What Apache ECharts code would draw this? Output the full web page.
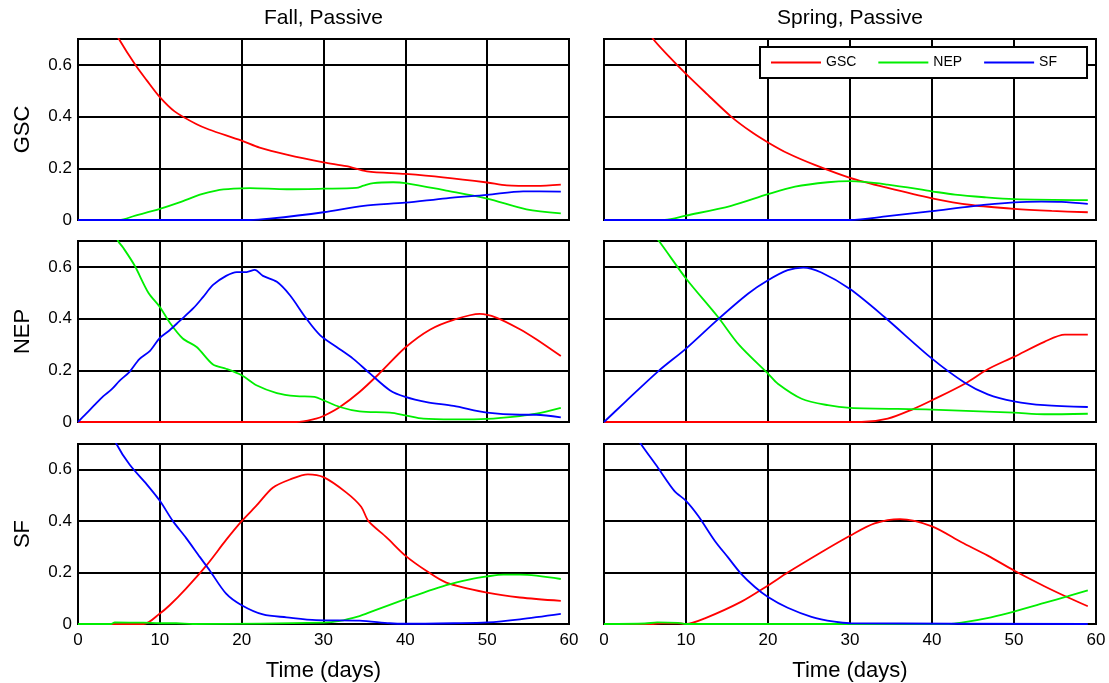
<!DOCTYPE html>
<html><head><meta charset="utf-8">
<script src="https://cdn.jsdelivr.net/npm/echarts@6/dist/echarts.min.js"></script>
<style>html,body{margin:0;padding:0;background:#fff}#c{width:1109px;height:683px}</style>
</head><body><div id="c"></div>
<script>
const seriesNames = ['GSC', 'NEP', 'SF'];
const panelTitles = ['Fall, Passive', 'Spring, Passive'];
const rowLabels = ['GSC', 'NEP', 'SF'];
const xTicks = [0, 10, 20, 30, 40, 50, 60];
const yTicks = [0, 0.2, 0.4, 0.6];

// ---- Fall, GSC panel ----
const fallGSC_GSC = [[0,0.98],[2,0.86],[4,0.76],[5,0.70],[7,0.60],[8.4,0.54],[10,0.475],[11.8,0.42],[14.5,0.37],[16,0.35],[20,0.307],[22.2,0.28],[25.5,0.253],[30,0.223],[32.8,0.208],[35.3,0.188],[40,0.178],[44.6,0.165],[50,0.145],[52.4,0.134],[56,0.132],[59,0.137]];
const fallGSC_NEP = [[0,0],[5,0],[7,0.017],[10,0.043],[12.4,0.068],[14.9,0.098],[16.9,0.114],[19,0.121],[21,0.123],[25.5,0.119],[30,0.121],[34,0.124],[34.9,0.133],[36.1,0.143],[38.5,0.146],[40,0.143],[45,0.114],[50,0.083],[54.8,0.041],[59,0.026]];
const fallGSC_SF = [[0,0],[21,0],[23.4,0.005],[30,0.03],[34.9,0.055],[40,0.067],[45,0.084],[50,0.097],[54.4,0.111],[59,0.11]];

// ---- Spring, GSC panel ----
const springGSC_GSC = [[0,0.98],[3,0.84],[6,0.70],[8,0.63],[10,0.565],[12.3,0.495],[15.5,0.40],[18,0.34],[20,0.30],[22.4,0.258],[25.7,0.213],[30,0.163],[34.6,0.124],[40,0.084],[44.8,0.058],[50,0.043],[54.6,0.035],[59,0.03]];
const springGSC_NEP = [[0,0],[7.4,0],[10,0.017],[15.5,0.055],[20,0.10],[23.3,0.129],[27.3,0.146],[30,0.15],[34.6,0.137],[40,0.111],[42.8,0.098],[46.4,0.088],[50,0.081],[59,0.077]];
const springGSC_SF = [[0,0],[30,0],[34.6,0.015],[40,0.034],[44.8,0.053],[50,0.068],[53.3,0.071],[55.8,0.07],[59,0.062]];

// ---- Fall, NEP panel ----
const fallNEP_GSC = [[0,0],[26.7,0],[29.1,0.013],[30,0.023],[32,0.058],[34.4,0.116],[36.9,0.19],[40,0.288],[43,0.357],[45.9,0.395],[49.1,0.418],[51.1,0.404],[54,0.359],[56,0.32],[59,0.255]];
const fallNEP_NEP = [[0,1.0],[2,0.88],[4,0.77],[4.9,0.70],[5.5,0.675],[6.9,0.606],[8.6,0.50],[10,0.445],[11.2,0.385],[12.8,0.323],[14.5,0.29],[16.5,0.222],[18.1,0.206],[20,0.181],[21.8,0.142],[24.3,0.112],[26.7,0.10],[28.9,0.097],[30,0.084],[32,0.058],[34.4,0.041],[38.1,0.036],[40,0.026],[42.2,0.013],[45.9,0.01],[50,0.012],[54,0.023],[56,0.032],[59,0.055]];
const fallNEP_SF = [[0,0],[1,0.032],[2,0.065],[3.1,0.10],[4.1,0.126],[5.1,0.16],[6.3,0.194],[7.5,0.243],[8.8,0.275],[10,0.325],[11.2,0.355],[12.4,0.39],[14.1,0.44],[15.3,0.484],[16.5,0.53],[18.1,0.565],[19.4,0.58],[20.6,0.58],[21.6,0.588],[22.6,0.565],[24.3,0.542],[25.9,0.49],[27.9,0.40],[29.6,0.335],[31.6,0.29],[33.6,0.245],[35.7,0.187],[38.1,0.123],[40,0.097],[42.6,0.077],[45.9,0.062],[50,0.036],[54,0.028],[56,0.028],[59,0.018]];

// ---- Spring, NEP panel ----
const springNEP_GSC = [[0,0],[31.4,0],[34.6,0.013],[37.7,0.05],[40,0.084],[44,0.148],[46.8,0.204],[50,0.252],[53.7,0.31],[56.2,0.338],[59,0.338]];
const springNEP_NEP = [[0,0.97],[3,0.85],[6.7,0.70],[10,0.555],[13.9,0.406],[16.5,0.297],[20,0.187],[21.2,0.148],[24.1,0.09],[27.3,0.065],[30,0.055],[40,0.048],[50,0.036],[53.7,0.03],[59,0.032]];
const springNEP_SF = [[0,0],[2.5,0.075],[6.6,0.196],[10,0.284],[13.9,0.397],[17.6,0.497],[20,0.548],[22.4,0.587],[24.3,0.597],[26.5,0.578],[30,0.514],[34.2,0.406],[40,0.245],[44,0.152],[46.8,0.107],[50,0.08],[53.7,0.065],[59,0.058]];

// ---- Fall, SF panel ----
const fallSF_GSC = [[0,0],[8,0],[10,0.041],[11.2,0.073],[13.2,0.138],[15.7,0.228],[18.1,0.327],[20,0.40],[21.8,0.46],[23.8,0.53],[25.9,0.562],[28.1,0.582],[30,0.571],[32.8,0.511],[34.6,0.456],[35.5,0.40],[37.7,0.337],[40,0.266],[42.6,0.206],[45,0.161],[50,0.122],[54,0.103],[59,0.09]];
const fallSF_NEP = [[0,0],[4,0],[4.5,0.006],[8,0.005],[10,0.003],[12,0.003],[14,0],[30,0.005],[32,0.012],[34.4,0.031],[35.3,0.041],[40,0.097],[45,0.151],[47.9,0.174],[50,0.185],[52,0.192],[54,0.192],[59,0.175]];
const fallSF_SF = [[0,1.0],[2,0.88],[4,0.76],[4.7,0.70],[6.3,0.62],[8.4,0.543],[10,0.479],[11.6,0.40],[13.2,0.335],[14.9,0.26],[16.1,0.208],[18.1,0.118],[20,0.073],[22.6,0.037],[25.5,0.026],[29.1,0.015],[34.4,0.013],[38.1,0.003],[40,0.001],[45.9,0.003],[50,0.006],[54,0.018],[59,0.039]];

// ---- Spring, SF panel ----
const springSF_GSC = [[0,0],[6,0],[7,0.003],[9,0.003],[10,0],[12.3,0.022],[16.7,0.086],[20,0.15],[22.4,0.20],[26.5,0.279],[30,0.343],[33,0.391],[36.1,0.408],[40,0.38],[43.6,0.318],[46.8,0.266],[50,0.208],[53.7,0.147],[56.6,0.103],[59,0.069]];
const springSF_NEP = [[0,0],[5,0.002],[6.5,0.006],[9,0.004],[10,0],[42,0],[43.6,0.005],[47.2,0.026],[50,0.048],[53.7,0.082],[56.6,0.108],[59,0.131]];
const springSF_SF = [[0,0.92],[2,0.82],[4.5,0.70],[6.6,0.607],[8.6,0.517],[10,0.479],[11.5,0.42],[13.5,0.324],[15.1,0.26],[16.7,0.196],[18.4,0.144],[20,0.105],[22.4,0.063],[25.3,0.028],[28.1,0.009],[30,0.003],[59,0]];

const panelData = [
  [fallGSC_GSC, fallGSC_NEP, fallGSC_SF], [springGSC_GSC, springGSC_NEP, springGSC_SF],
  [fallNEP_GSC, fallNEP_NEP, fallNEP_SF], [springNEP_GSC, springNEP_NEP, springNEP_SF],
  [fallSF_GSC, fallSF_NEP, fallSF_SF], [springSF_GSC, springSF_NEP, springSF_SF]
];

const colors = ['#ff0000', '#00ee00', '#0000ff'];
const FONT = '"Liberation Sans", Arial, Helvetica, sans-serif';
const gridLefts = [78, 604];
const gridWidths = [491, 492];
const gridTops = [39, 241, 444];
const gridHeight = 181;

const grids = [], xAxes = [], yAxes = [], series = [];
for (let r = 0; r < 3; r++) {
  for (let c = 0; c < 2; c++) {
    const i = r * 2 + c;
    grids.push({ left: gridLefts[c], top: gridTops[r], width: gridWidths[c], height: gridHeight,
      show: true, borderColor: '#000', borderWidth: 2, backgroundColor: '#fff' });
    xAxes.push({
      type: 'value', gridIndex: i, min: xTicks[0], max: xTicks[xTicks.length - 1], interval: 10,
      axisLine: { show: false }, axisTick: { show: false },
      splitLine: { show: true, lineStyle: { color: '#000', width: 2 } },
      axisLabel: { show: r === 2, fontSize: 17, color: '#000', fontFamily: FONT, margin: 8 },
      name: r === 2 ? 'Time (days)' : '', nameLocation: 'middle', nameGap: 36,
      nameTextStyle: { fontSize: 22, color: '#000', fontFamily: FONT }
    });
    yAxes.push({
      type: 'value', gridIndex: i, min: 0, max: 0.7, interval: 0.2,
      axisLine: { show: false }, axisTick: { show: false },
      splitLine: { show: true, lineStyle: { color: '#000', width: 2 } },
      axisLabel: { show: c === 0, showMaxLabel: false, fontSize: 17, color: '#000', fontFamily: FONT, margin: 6,
        formatter: v => (yTicks.some(t => Math.abs(t - v) < 1e-9) ? String(+v.toFixed(1)) : '') },
      name: c === 0 ? rowLabels[r] : '', nameLocation: 'middle', nameGap: 44, nameRotate: 90,
      nameTextStyle: { fontSize: 22, color: '#000', fontFamily: FONT }
    });
    panelData[i].forEach((d, k) => {
      series.push({
        name: seriesNames[k], type: 'line', xAxisIndex: i, yAxisIndex: i, data: d,
        symbol: 'none', smooth: 0.3, clip: true, z: 3,
        lineStyle: { color: colors[k], width: 1.8 }, itemStyle: { color: colors[k] }
      });
    });
  }
}

const chart = echarts.init(document.getElementById('c'), null, { renderer: 'canvas' });
chart.setOption({
  animation: false,
  backgroundColor: '#fff',
  grid: grids, xAxis: xAxes, yAxis: yAxes, series: series,
  legend: {
    data: seriesNames.map((n, k) => ({ name: n, icon: 'rect', itemStyle: { color: colors[k] } })),
    left: 760, top: 47, orient: 'horizontal',
    padding: [7, 30, 7, 11], itemGap: 22, itemWidth: 50, itemHeight: 2,
    borderColor: '#000', borderWidth: 2, backgroundColor: '#fff', borderRadius: 0,
    textStyle: { fontSize: 14, color: '#000', fontFamily: FONT, lineHeight: 17 }, z: 10
  },
  graphic: panelTitles.map((t, c) => ({
    type: 'text', x: gridLefts[c] + gridWidths[c] / 2, y: 18,
    style: { text: t, font: '21px ' + FONT, fill: '#000', align: 'center', verticalAlign: 'middle',
      textAlign: 'center', textVerticalAlign: 'middle' }
  }))
});
</script></body></html>
